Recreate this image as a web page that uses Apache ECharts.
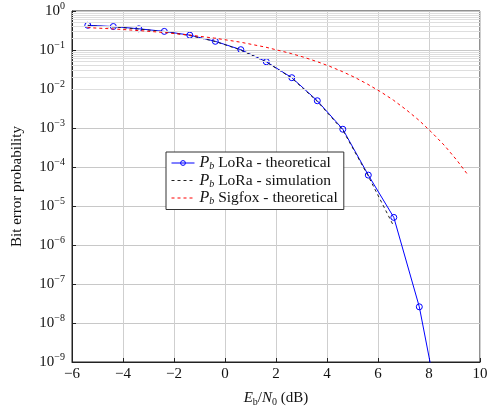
<!DOCTYPE html>
<html>
<head>
<meta charset="utf-8">
<script src="https://cdn.jsdelivr.net/npm/echarts@6/dist/echarts.min.js"></script>
<style>
  html, body { margin: 0; padding: 0; background: #fff; }
  #main { width: 491px; height: 409px; }
</style>
</head>
<body>
<div id="main"></div>
<script>
// Eb/N0 (dB) where the LoRa curves are sampled
var loraX = [-5.38, -4.38, -3.38, -2.38, -1.38, -0.38, 0.62, 1.62, 2.62, 3.62, 4.62, 5.62, 6.62, 7.62, 8.62];
// LoRa theoretical BER (blue, with markers)
var loraTheory = [0.43, 0.40, 0.35, 0.30, 0.24, 0.167, 0.102, 0.050, 0.0195, 0.0050, 9.3e-4, 6.2e-5, 5.1e-6, 2.6e-8, 1.1e-11];
// LoRa simulated BER (black dashed), stops earlier
var loraSimX = [-5.38, -4.38, -3.38, -2.38, -1.38, -0.38, 0.62, 1.62, 2.62, 3.62, 4.62, 5.62, 6.62];
var loraSim = [0.42, 0.39, 0.345, 0.295, 0.235, 0.165, 0.100, 0.049, 0.019, 0.0048, 8.8e-4, 5.8e-5, 3.0e-6];
// Sigfox theoretical BER (red dashed)
var sigfoxX = [-5.4, -4.4, -3.4, -2.4, -1.4, -0.4, 0.6, 1.6, 2.6, 3.1, 3.6, 4.1, 4.6, 5.1, 5.6, 6.1, 6.6, 7.1, 7.6, 8.1, 8.6, 9.1, 9.5];
var sigfox = [0.375, 0.348, 0.316, 0.281, 0.242, 0.201, 0.159, 0.118, 0.081, 0.065, 0.0506, 0.0383, 0.028, 0.0197, 0.0132, 0.0085, 0.0052, 0.00296, 0.00159, 7.8e-4, 3.6e-4, 1.47e-4, 6.6e-5];

function pairs(xs, ys) {
  return xs.map(function (x, i) { return [x, ys[i]]; });
}

// minor grid lines 2..9 in every decade
var minorLines = [];
for (var d = -9; d < 0; d++) {
  for (var m = 2; m <= 9; m++) {
    minorLines.push({ yAxis: m * Math.pow(10, d) });
  }
}

var serif = '"Liberation Serif", "DejaVu Serif", serif';
var minus = function (v) { return String(v).replace('-', '\u2212'); };
var clear = 'rgba(0,0,0,0)';

var chart = echarts.init(document.getElementById('main'));
chart.setOption({
  animation: false,
  textStyle: { fontFamily: serif, color: '#111' },
  grid: {
    left: 72, right: 11, top: 11, bottom: 47,
    outerBoundsMode: 'none', containLabel: false,
    show: true, borderColor: '#222', borderWidth: 1
  },
  legend: {
    orient: 'vertical',
    left: 166, top: 152,
    backgroundColor: '#fff',
    borderColor: '#333', borderWidth: 1,
    borderRadius: 0,
    padding: [3, 6, 3, 5],
    itemGap: 1,
    itemWidth: 23, itemHeight: 6,
    lineStyle: { width: 1 },
    data: [
      { name: 'lt', itemStyle: { color: clear, borderColor: '#0000ff', borderWidth: 1 } },
      { name: 'ls', itemStyle: { opacity: 0 } },
      { name: 'st', itemStyle: { opacity: 0 } }
    ],
    formatter: function (name) {
      var t = { lt: ' LoRa - theoretical', ls: ' LoRa - simulation', st: ' Sigfox - theoretical' }[name];
      return '{i|P}{s|b}{n|' + t + '}';
    },
    textStyle: {
      fontFamily: serif,
      rich: {
        i: { fontStyle: 'italic', fontSize: 16, fontFamily: serif, color: '#111' },
        s: { fontStyle: 'italic', fontSize: 10, fontFamily: serif, verticalAlign: 'bottom', padding: [7, 0, 0, 0], color: '#111' },
        n: { fontSize: 15.5, fontFamily: serif, color: '#111' }
      }
    }
  },
  xAxis: {
    type: 'value',
    min: -6, max: 10, interval: 2,
    name: '{i|E}{s|b}{n|/}{i|N}{s|0}{n| (dB)}',
    nameLocation: 'middle',
    nameGap: 28,
    nameTextStyle: {
      rich: {
        i: { fontStyle: 'italic', fontSize: 15, fontFamily: serif, color: '#111' },
        s: { fontSize: 10, fontFamily: serif, padding: [7, 0, 0, 0], color: '#111' },
        n: { fontSize: 15, fontFamily: serif, color: '#111' }
      }
    },
    axisLine: { show: true, onZero: false, lineStyle: { color: '#222' } },
    axisTick: { inside: true, length: 4, lineStyle: { color: '#222' } },
    axisLabel: { fontSize: 15, fontFamily: serif, color: '#111', margin: 5, formatter: minus },
    splitLine: { show: true, lineStyle: { color: '#cfcfcf' } }
  },
  yAxis: {
    type: 'log',
    logBase: 10,
    min: 1e-9, max: 1, interval: 1,
    name: 'Bit error probability',
    nameLocation: 'middle',
    nameGap: 47,
    nameTextStyle: { fontSize: 15, fontFamily: serif, color: '#111' },
    axisLine: { show: true, onZero: false, lineStyle: { color: '#222' } },
    axisTick: { inside: true, length: 4, lineStyle: { color: '#222' } },
    axisLabel: {
      margin: 7,
      formatter: function (v) {
        var e = Math.round(Math.log10(v));
        return '{b|10}{e|' + minus(e) + '}';
      },
      rich: {
        b: { fontSize: 15, fontFamily: serif, color: '#111' },
        e: { fontSize: 10, fontFamily: serif, color: '#111', padding: [0, 0, 9, 0] }
      }
    },
    splitLine: { show: true, lineStyle: { color: '#c8c8c8' } }
  },
  series: [
    {
      name: 'grid', type: 'line', data: [], z: 0, silent: true,
      markLine: {
        silent: true, symbol: 'none', animation: false,
        label: { show: false },
        lineStyle: { color: '#dedede', type: 'solid', width: 1 },
        data: minorLines
      }
    },
    {
      name: 'lt', type: 'line',
      data: pairs(loraX, loraTheory),
      symbol: 'circle', symbolSize: 6,
      itemStyle: { color: clear, borderColor: '#0000ff', borderWidth: 1 },
      lineStyle: { color: '#0000ff', width: 1 },
      clip: true, z: 3
    },
    {
      name: 'ls', type: 'line',
      data: pairs(loraSimX, loraSim),
      symbol: 'none',
      itemStyle: { color: '#222' },
      lineStyle: { color: '#222', width: 1, type: [3, 3] },
      clip: true, z: 4
    },
    {
      name: 'st', type: 'line',
      data: pairs(sigfoxX, sigfox),
      symbol: 'none',
      itemStyle: { color: '#ff0000' },
      lineStyle: { color: '#ff0000', width: 1, type: [3, 3] },
      clip: true, z: 5
    }
  ]
});
</script>
</body>
</html>
